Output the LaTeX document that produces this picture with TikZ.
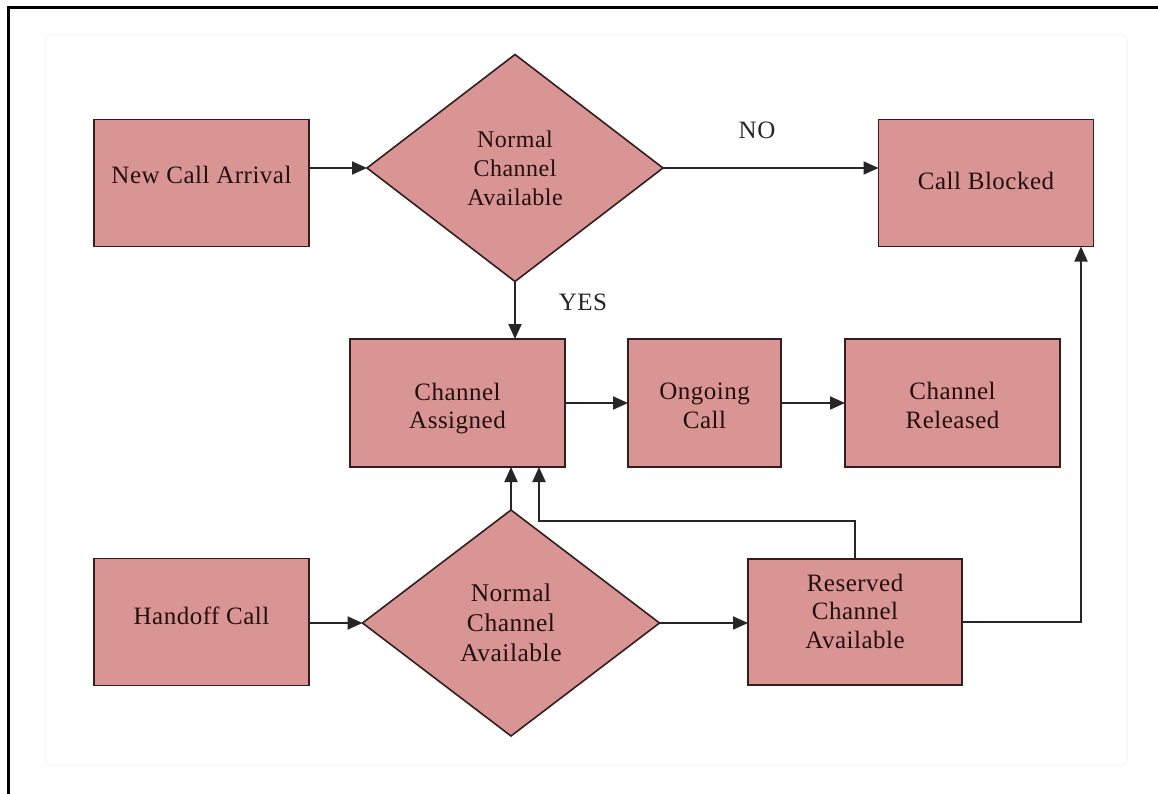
\documentclass[tikz,border=0pt]{standalone}
\usepackage{fontspec}
\setmainfont{Liberation Serif}[LetterSpace=2]
\usetikzlibrary{shapes.geometric,arrows.meta}
\definecolor{boxfill}{RGB}{217,149,148}
\definecolor{boxline}{RGB}{50,30,30}
\definecolor{txt}{RGB}{35,15,15}
\tikzset{
  box/.style={draw=boxline, line width=1.9pt, fill=boxfill, text=txt, align=center,
    inner sep=0pt, outer sep=0pt, font=\fontsize{25}{28.5}\selectfont},
  dec/.style={diamond, draw=boxline, line width=1.6pt, fill=boxfill, text=txt, align=center,
    inner sep=0pt, outer sep=0pt, font=\fontsize{24}{29}\selectfont},
  arr/.style={draw=black!85, line width=1.9pt, -{Triangle[length=15pt,width=13pt]}},
  lbl/.style={text=black!85, font=\fontsize{25}{29}\selectfont, inner sep=0pt}
}
\begin{document}
\begin{tikzpicture}[x=1pt,y=-1pt]
\useasboundingbox (0,0) rectangle (1158,794);
\fill[white] (0,0) rectangle (1158,794);
\draw[draw=black!4, line width=1pt, rounded corners=5pt] (45,35) rectangle (1127,765);
\draw[black, line width=3pt] (8.5,794) -- (8.5,7.5) -- (1158,7.5);

\node[box, minimum width=215, minimum height=127] (nca) at (201.5,183) {New Call Arrival\\[-12.5pt]};
\node[dec, minimum width=296, minimum height=227] (d1) at (515,168) {Normal\\Channel\\Available};
\node[box, minimum width=215, minimum height=127] (cb) at (986,183) {Call Blocked\\[-23.5pt]};
\node[box, minimum width=215, minimum height=128] (ca) at (457.5,403) {\mbox{}\\[-0.5pt]Channel\\Assigned};
\node[box, minimum width=153, minimum height=128] (oc) at (704.5,403) {\mbox{}\\[-6pt]Ongoing\\Call};
\node[box, minimum width=215, minimum height=128] (cr) at (952.5,403) {\mbox{}\\[-6pt]Channel\\Released};
\node[box, minimum width=215, minimum height=127] (hc) at (201.5,622) {Handoff Call\\[-15.5pt]};
\node[dec, minimum width=297, minimum height=226, font=\fontsize{25.5}{30}\selectfont] (d2) at (511,623) {Normal\\Channel\\Available};
\node[box, minimum width=214, minimum height=126] (rca) at (855,622) {Reserved\\Channel\\Available\\[-6.5pt]};

\node[lbl] (no) at (757,130) {NO};
\node[lbl] (yes) at (583,302) {YES};

\coordinate (k) at (539,521);
\coordinate (m) at (1081,622);

\draw[arr] (d1.west -| nca.east) -- (d1.west);
\draw[arr] (d1.east) -- (d1.east -| cb.west);
\draw[arr] (d1.south) -- (d1.south |- ca.north);
\draw[arr] (ca.east) -- (oc.west);
\draw[arr] (oc.east) -- (cr.west);
\draw[arr] (d2.west -| hc.east) -- (d2.west);
\draw[arr] (d2.east) -- (d2.east -| rca.west);
\draw[arr] (d2.north) -- (d2.north |- ca.south);
\draw[arr] (rca.north) |- (k) -- (k |- ca.south);
\draw[arr] (rca.east) -- (m) -- (m |- cb.south);
\end{tikzpicture}
\end{document}
